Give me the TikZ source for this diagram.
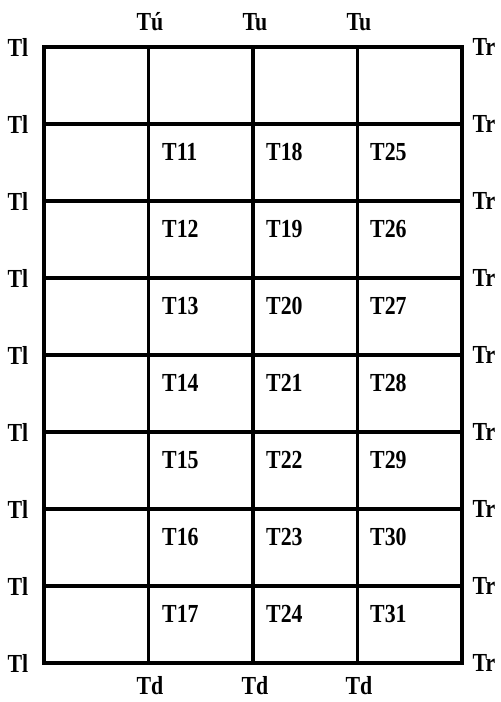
\documentclass[tikz,border=0pt]{standalone}
\usepackage{fontspec}
\setmainfont{Liberation Serif}
\newfontfamily\labfont[FakeStretch=0.84]{Liberation Serif}
\begin{document}
\begin{tikzpicture}[x=1pt,y=-1pt,
  grid/.style={line width=3.2pt},
  lbl/.style={font=\labfont\fontsize{26}{27}\selectfont\bfseries, inner sep=0pt},
  cell/.style={lbl, anchor=west}]
\useasboundingbox (0,0) rectangle (501,702);
% grid
\draw[grid] (44,47) rectangle (462,663);
\foreach \k in {1,...,7} {
  \draw[grid] (44,47+77*\k) -- (462,47+77*\k);
}
\foreach \x in {148.5,253,357.5} {
  \draw[grid] (\x,47) -- (\x,663);
}
% left / right labels
\foreach \k in {0,...,8} {
  \node[lbl] (l\k) at (18,47+77*\k) {Tl};
  \node[lbl] (r\k) at (484,47+77*\k) {Tr};
}
% top / bottom labels
\node[lbl] (u1) at (150,22) {Tú};
\node[lbl] (u2) at (255,22) {Tu};
\node[lbl] (u3) at (359,22) {Tu};
\node[lbl] (d1) at (150,686) {Td};
\node[lbl] (d2) at (255,686) {Td};
\node[lbl] (d3) at (359,686) {Td};
% cell labels
\foreach \k in {1,...,7} {
  \pgfmathtruncatemacro{\a}{10+\k}
  \pgfmathtruncatemacro{\b}{17+\k}
  \pgfmathtruncatemacro{\c}{24+\k}
  \node[cell] (c\a) at (162,47+77*\k+28) {T\a};
  \node[cell] (c\b) at (266,47+77*\k+28) {T\b};
  \node[cell] (c\c) at (370,47+77*\k+28) {T\c};
}
\end{tikzpicture}
\end{document}
